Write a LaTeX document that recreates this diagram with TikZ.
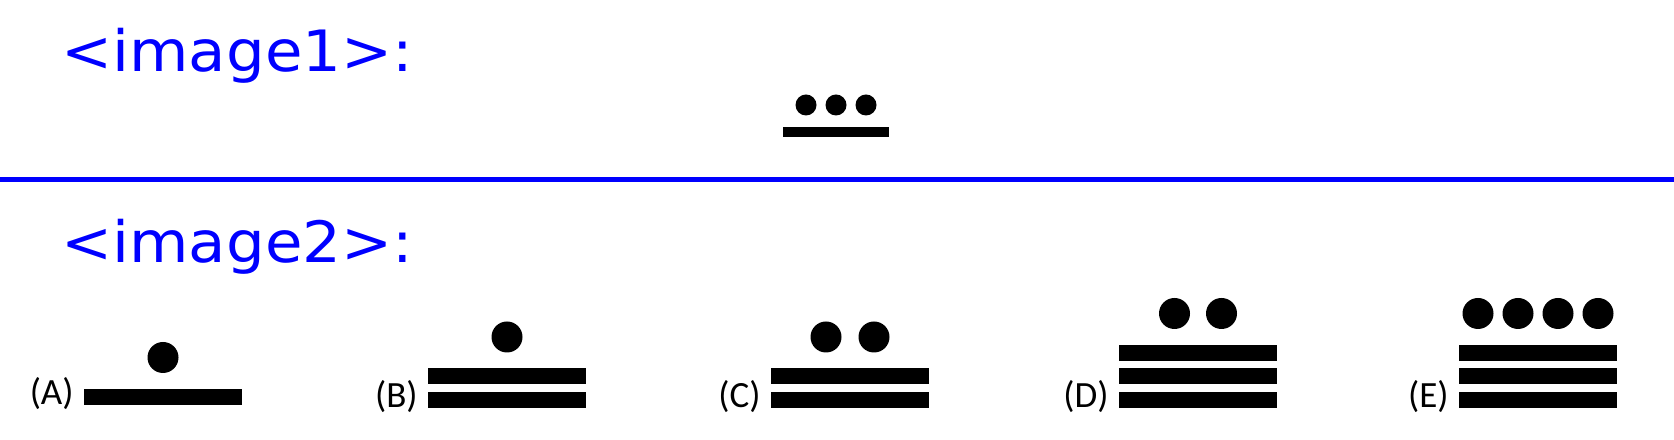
\documentclass[tikz,border=0pt]{standalone}
\usepackage{fontspec}
\newfontfamily\headfont{DejaVu Sans}
\newfontfamily\optfont{Carlito}
\begin{document}
\begin{tikzpicture}[x=0.5bp, y=-0.5bp,
  head/.style={anchor=base west, inner sep=0pt, text=blue, xscale=1.07,
               font=\headfont\fontsize{28.5bp}{28.5bp}\selectfont},
  opt/.style={anchor=base east, inner sep=0pt,
              font=\optfont\fontsize{18.5bp}{18.5bp}\selectfont}]
\useasboundingbox (0,0) rectangle (1674,440);
% headings and separator
\node[head] (h1) at (61,72) {<image1>:};
\node[head] (h2) at (61,263) {<image2>:};
\draw[blue, line width=2.5bp] (0,179.5) -- (1674,179.5);
% given numeral
\fill (783,127) rectangle (889,137);
\foreach \x in {806,836,866}
  \fill (\x,105) circle[radius=5.25bp];
% options A--E
\foreach \lab/\xl/\yb/\nb/\dl in {A/84/405/1/{0}, B/428/408/2/{0},
    C/771/408/2/{-24,24}, D/1119/408/3/{-23.5,23.5},
    E/1459/408/3/{-60,-20,20,60}} {
  \node[opt] (opt\lab) at (\xl-10,\yb) {(\lab)};
  \foreach \k in {1,...,\nb}
    \fill (\xl,\yb-23.5*\k+23.5) rectangle +(158,-16);
  \pgfmathsetmacro\yd{\yb-23.5*\nb+23.5-47.5}
  \foreach \d in \dl
    \fill (\xl+79+\d,\yd) circle[radius=7.75bp];
}
\end{tikzpicture}
\end{document}
